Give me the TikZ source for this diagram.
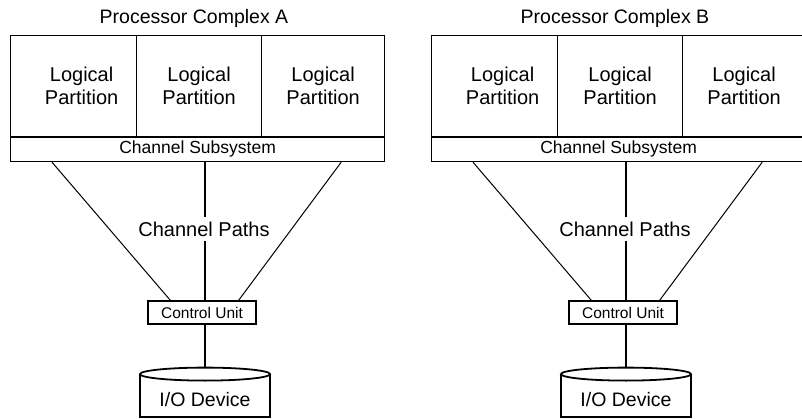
\documentclass[tikz,border=0pt]{standalone}
\usepackage{fontspec}
\setmainfont{Liberation Sans}
\usetikzlibrary{calc}
\tikzset{
  box/.style={draw, line width=1.2pt, inner sep=0pt, anchor=north west, align=center},
  part/.style={box, minimum height=101pt, font=\fontsize{20}{23.5}\selectfont},
  chansub/.style={box, minimum width=374pt, minimum height=25pt, font=\fontsize{17.5}{20}\selectfont},
  ctlbox/.style={draw, line width=1.1pt, minimum width=108pt, minimum height=23pt, inner sep=0pt, font=\fontsize{15.5}{18}\selectfont},
  iobody/.style={draw, line width=1.8pt, minimum width=130pt, minimum height=42pt, inner sep=0pt},
  iotext/.style={font=\fontsize{19.5}{22}\selectfont, inner sep=0pt},
  titletext/.style={font=\fontsize{19.5}{22}\selectfont, inner sep=0pt},
  pathlabel/.style={fill=white, inner sep=5pt, font=\fontsize{20}{23}\selectfont},
  trunk/.style={line width=2.4pt},
  branch/.style={line width=1pt},
  sepline/.style={line width=1.8pt}
}
\newcommand\makecomplex[2]{%
\begin{scope}[shift={(#2,0)}]
  \node[titletext] (title#1) at (194,18) {Processor Complex #1};
  \node[part, minimum width=126pt] (pa#1) at (10,35) {\hspace*{16pt}Logical\\\hspace*{16pt}Partition};
  \node[part, minimum width=125pt] (pb#1) at (136,35) {Logical\\Partition};
  \node[part, minimum width=123pt] (pc#1) at (261,35) {Logical\\Partition};
  \node[chansub] (cs#1) at (10,136) {Channel Subsystem};
  \draw[sepline] (pa#1.south west) -- (pc#1.south east);
  \node[ctlbox] (ctl#1) at (202,312.5) {Control Unit};
  \node[iobody] (io#1) at (205,396) {};
  \draw[line width=1.8pt, fill=white] (io#1.north) ellipse [x radius=65, y radius=6.5];
  \node[iotext] (iot#1) at (205,400) {I/O Device};
  \draw[trunk] (cs#1.south -| io#1.north) -- (ctl#1.north -| io#1.north);
  \draw[trunk] (ctl#1.south -| io#1.north) -- ($(io#1.north)+(0,-6.5)$);
  \draw[branch] ($(cs#1.south west)+(42,0)$) -- ($(ctl#1.north west)+(23,0)$);
  \draw[branch] ($(cs#1.south east)+(-44,0)$) -- ($(ctl#1.north east)+(-18,0)$);
  \node[pathlabel] (cp#1) at (204,229) {Channel Paths};
\end{scope}}
\begin{document}
\begin{tikzpicture}[x=1pt,y=-1pt]
\useasboundingbox (0,0) rectangle (802,419);
\clip (0,0) rectangle (802,419);
\makecomplex{A}{0}
\makecomplex{B}{421}
\end{tikzpicture}
\end{document}
